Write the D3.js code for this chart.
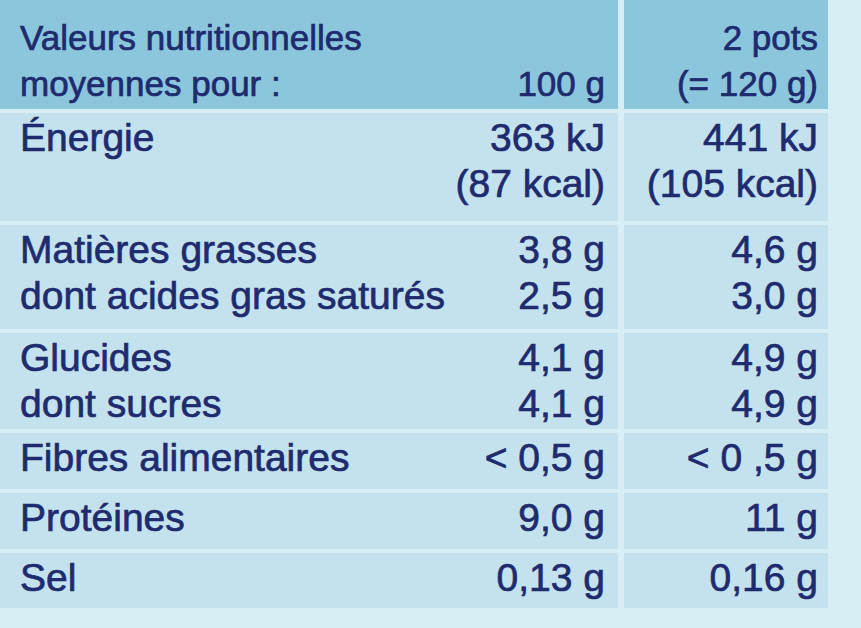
<!DOCTYPE html>
<html><head><meta charset="utf-8">
<script src="https://cdn.jsdelivr.net/npm/d3@7"></script>
<style>body{margin:0;background:#d8eef5}</style>
</head><body>
<script>
var labels = [["Valeurs nutritionnelles", "moyennes pour :"], ["Énergie", ""], ["Matières grasses", "dont acides gras saturés"], ["Glucides", "dont sucres"], ["Fibres alimentaires"], ["Protéines"], ["Sel"]];
var col100 = [["", "100 g"], ["363 kJ", "(87 kcal)"], ["3,8 g", "2,5 g"], ["4,1 g", "4,1 g"], ["< 0,5 g"], ["9,0 g"], ["0,13 g"]];
var colPots = [["2 pots", "(= 120 g)"], ["441 kJ", "(105 kcal)"], ["4,6 g", "3,0 g"], ["4,9 g", "4,9 g"], ["< 0 ,5 g"], ["11 g"], ["0,16 g"]];
var rowTops = [0, 113, 225, 333, 433, 493, 553, 612];

(function() {
	var width = 861, height = 628;
	var svg = d3.select("body").append("svg").attr("width", width).attr("height", height);
	var x = d3.scaleLinear().domain([0, 1]).range([0, 828]);
	var colEdge = 618;

	svg.append("rect").attr("x", 0).attr("y", 0).attr("width", width).attr("height", height).attr("fill", "#d8eef5");

	for (var i = 0; i < labels.length; i++) {
		var top = rowTops[i], bottom = rowTops[i + 1] - 4;
		var fill = i === 0 ? "#8cc6dd" : "#c3e2ee";
		svg.append("rect").attr("x", x(0)).attr("y", top).attr("width", colEdge - x(0))
			.attr("height", bottom - top).attr("fill", fill);
		svg.append("rect").attr("x", colEdge + 6).attr("y", top).attr("width", x(1) - colEdge - 6)
			.attr("height", bottom - top).attr("fill", fill);
		var n = labels[i].length;
		var lh = 46;
		var base = i === 0 ? top + 50 : top + 38;
		var cols = [[labels[i], 20, "start"], [col100[i], 605, "end"], [colPots[i], 818, "end"]];
		cols.forEach(function(c) {
			svg.selectAll(null).data(c[0]).enter().append("text")
				.attr("x", c[1]).attr("y", function(d, j) { return base + j * lh; })
				.attr("text-anchor", c[2])
				.attr("font-family", "Liberation Sans, Arial, sans-serif")
				.attr("font-size", i === 0 ? 35 : 39)
				.attr("fill", "#1e2b6e")
				.attr("stroke", "#1e2b6e").attr("stroke-width", 0.7)
				.text(function(d) { return d; });
		});
	}
})();
</script>
</body></html>
